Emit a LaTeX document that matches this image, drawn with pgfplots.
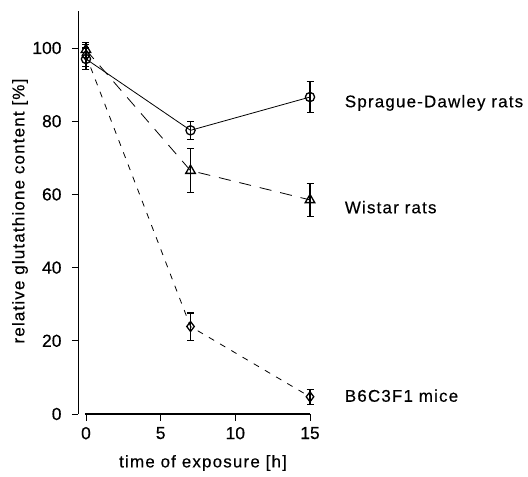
\documentclass[border=0pt]{standalone}
\usepackage{pgfplots}
\usepackage{pgfplotstable}
\pgfplotsset{compat=1.18}
\usepackage{fontspec}
\setmainfont{Liberation Sans}[FakeBold=0.4]
\newfontfamily\lblfont[LetterSpace=7, FakeBold=0.4]{Liberation Sans}
\newfontfamily\tickfont[FakeBold=0.4]{Liberation Sans}

% glutathione content (%) after exposure: time [h], mean, error
\pgfplotstableread{
t  v     e
0  97.0  3.0
7  77.5  2.4
15 86.6  4.3
}\sdrats
\pgfplotstableread{
t  v     e
0  99.5  2.0
7  66.5  6.0
15 58.5  4.5
}\wistar
\pgfplotstableread{
t  v     e
0  98.0  3.0
7  23.9  3.7
15 4.7   2.0
}\mice

\begin{document}
\begin{tikzpicture}[x=1bp,y=1bp]
\useasboundingbox (-78.5,-63) rectangle (449.5,414);
\begin{axis}[
  scale only axis, width=231.5bp, height=402.6bp,
  xmin=-0.5, xmax=15, ymin=0, ymax=110,
  axis x line=bottom, axis y line=left,
  x axis line style={-, shorten <=6.5bp}, y axis line style={-},
  axis line style={line width=1.1bp},
  xtick={0,5,10,15}, ytick={0,20,40,60,80,100},
  tick align=outside, major tick length=6.5bp,
  tick style={line width=0.9bp, black},
  /pgf/number format/assume math mode=true,
  tick label style={font=\fontsize{17.5}{20}\tickfont},
  yticklabel style={xshift=-7bp},
  xticklabel style={yshift=-3bp},
  xlabel={time of exposure [h]},
  ylabel={relative glutathione content [\%]},
  label style={font=\fontsize{17}{20}\lblfont},
  x label style={at={(axis description cs:0.538,-0.1217)}, anchor=center},
  y label style={at={(axis description cs:-0.2527,0.504)}, anchor=center, rotate=0},
  clip=false,
  every axis plot/.append style={line width=0.8bp, black},
  error bars/error bar style={line width=1.1bp, solid},
  error bars/error mark options={rotate=90, mark size=3.5bp, line width=1.1bp, solid},
]
% Sprague-Dawley rats
\addplot[solid, mark=o, mark size=4.6bp,
  mark options={solid, fill=white, line width=1.3bp},
  error bars/.cd, y dir=both, y explicit]
  table[x=t, y=v, y error=e] {\sdrats};
% Wistar rats
\addplot[dash pattern=on 12bp off 9bp, mark=triangle, mark size=5.5bp,
  mark options={solid, fill=white, line width=1.3bp},
  error bars/.cd, y dir=both, y explicit]
  table[x=t, y=v, y error=e] {\wistar};
% B6C3F1 mice
\addplot[dash pattern=on 6bp off 7bp, mark=diamond, mark size=5bp,
  mark options={solid, fill=white, line width=1.3bp},
  error bars/.cd, y dir=both, y explicit]
  table[x=t, y=v, y error=e] {\mice};

\node[anchor=west, font=\fontsize{17}{20}\lblfont] at (axis cs:17.1,85) {Sprague-Dawley rats};
\node[anchor=west, font=\fontsize{17}{20}\lblfont] at (axis cs:17.1,56.5) {Wistar rats};
\node[anchor=west, font=\fontsize{17}{20}\lblfont] at (axis cs:17.1,5) {B6C3F1 mice};
\end{axis}
\end{tikzpicture}
\end{document}
